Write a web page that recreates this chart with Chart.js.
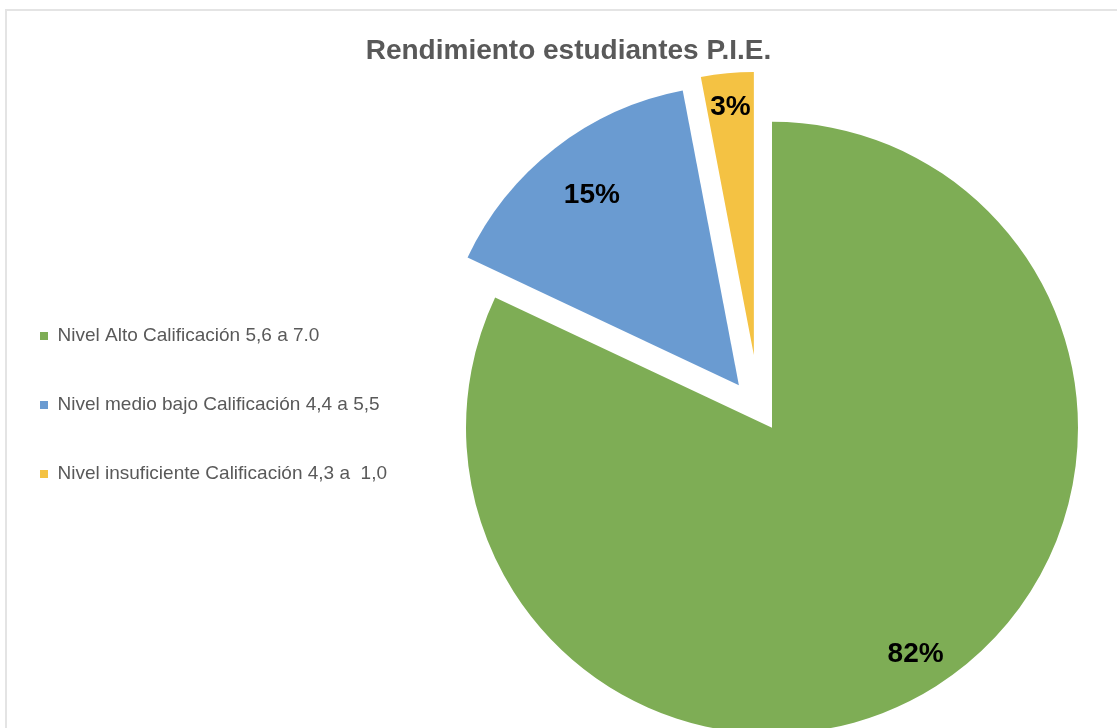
<!DOCTYPE html>
<html lang="es">
<head>
<meta charset="utf-8">
<title>Rendimiento estudiantes P.I.E.</title>
<script src="https://cdn.jsdelivr.net/npm/chart.js@4.4.1/dist/chart.umd.min.js"></script>
<style>
  html, body { margin: 0; padding: 0; background: #fff; overflow: hidden; width: 1117px; height: 728px; }
  #marco { position: absolute; left: 5px; top: 9px; width: 1200px; height: 800px; border-left: 2px solid #e4e4e4; border-top: 2px solid #e4e4e4; }
  #caja { position: absolute; left: -10px; top: 11px; width: 1157px; height: 773px; }
</style>
</head>
<body>
<div id="marco"></div>
<div id="caja"><canvas id="graficoPie"></canvas></div>
<script>
const categorias = [
    'Nivel Alto Calificación 5,6 a 7.0',
    'Nivel medio bajo Calificación 4,4 a 5,5',
    'Nivel insuficiente Calificación 4,3 a  1,0'
];
const porcentajes = [82, 15, 3];
const colores = ['#7EAD55', '#6A9BD1', '#F4C243'];

// separación de cada porción (px), desvío de su dirección (grados), escala del radio y posición de la etiqueta
const separacion = [0, 54, 75];
const desvio = [0, 0, -8.6];
const escala = [1, 0.98, 0.925];
const posEtiqueta = [0.876, 0.8, 0.88];

const fuente = '"Liberation Sans", Arial, sans-serif';

function direccion(arco, i) {
    return (arco.startAngle + arco.endAngle) / 2 + desvio[i] * Math.PI / 180;
}

// dibuja las porciones separadas del centro y los porcentajes encima
const pluginExplotar = {
    id: 'explotar',
    beforeDatasetDraw(chart, args) {
        const ctx = chart.ctx;
        args.meta.data.forEach((arco, i) => {
            const ang = direccion(arco, i);
            const radio = arco.outerRadius;
            ctx.save();
            ctx.translate(Math.cos(ang) * separacion[i], Math.sin(ang) * separacion[i]);
            arco.outerRadius = radio * escala[i];
            arco.draw(ctx);
            arco.outerRadius = radio;
            ctx.restore();
        });
        return false;
    },
    afterDatasetsDraw(chart) {
        const ctx = chart.ctx;
        const meta = chart.getDatasetMeta(0);
        ctx.save();
        ctx.font = 'bold 28px ' + fuente;
        ctx.fillStyle = '#000000';
        ctx.textAlign = 'center';
        ctx.textBaseline = 'middle';
        meta.data.forEach((arco, i) => {
            const ang = direccion(arco, i);
            const medio = (arco.startAngle + arco.endAngle) / 2;
            const cx = arco.x + Math.cos(ang) * separacion[i];
            const cy = arco.y + Math.sin(ang) * separacion[i];
            const d = arco.outerRadius * escala[i] * posEtiqueta[i];
            ctx.fillText(porcentajes[i] + '%', cx + Math.cos(medio) * d, cy + Math.sin(medio) * d);
        });
        ctx.restore();
    }
};

new Chart(document.getElementById('graficoPie'), {
    type: 'pie',
    data: {
        labels: categorias,
        datasets: [{
            data: porcentajes,
            backgroundColor: colores,
            borderWidth: 0,
            radius: 306
        }]
    },
    options: {
        responsive: true,
        maintainAspectRatio: false,
        animation: false,
        layout: { padding: { top: 15, left: 0, right: 0, bottom: 0 } },
        plugins: {
            title: {
                display: true,
                text: 'Rendimiento estudiantes P.I.E.',
                color: '#595959',
                font: { family: fuente, size: 28, weight: 'bold', lineHeight: 1.2 },
                padding: { top: 8, bottom: 4 }
            },
            legend: {
                position: 'left',
                maxWidth: 409,
                labels: {
                    boxWidth: 8,
                    boxHeight: 8,
                    padding: 50,
                    color: '#595959',
                    font: { family: fuente, size: 19 }
                }
            },
            tooltip: { enabled: false }
        }
    },
    plugins: [pluginExplotar]
});
</script>
</body>
</html>
